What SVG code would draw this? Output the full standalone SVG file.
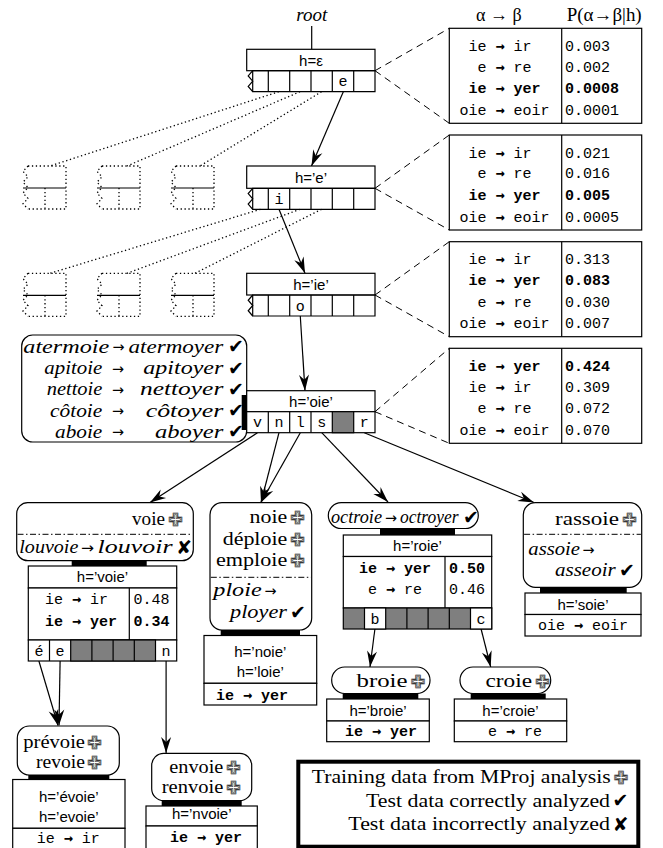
<svg xmlns="http://www.w3.org/2000/svg" xmlns:xlink="http://www.w3.org/1999/xlink" width="663" height="848" viewBox="0 0 663 848">
<style>
.n{fill:#fff;stroke:#000;stroke-width:1.2}
.ln{fill:none;stroke:#000;stroke-width:1.2}
.dot{fill:none;stroke:#000;stroke-width:1.3;stroke-dasharray:1.3 2.6}
.dash{fill:none;stroke:#000;stroke-width:1;stroke-dasharray:7 5}
.dd{fill:none;stroke:#000;stroke-width:1;stroke-dasharray:6 2.5 1.5 2.5}
.bar{fill:#000}
.gray{fill:#7f7f7f;stroke:#000;stroke-width:1.2}
.arr{fill:none;stroke:#000;stroke-width:1.2;marker-end:url(#ah)}
.sa{font-family:"Liberation Sans",Arial,sans-serif;font-size:15px;text-anchor:middle}
.mo{font-family:"Liberation Mono","DejaVu Sans Mono",monospace;font-size:15px}
.mb{font-family:"Liberation Mono","DejaVu Sans Mono",monospace;font-size:15px;font-weight:bold}
.ma{font-family:"DejaVu Sans Mono",monospace;font-weight:bold}
.sr{font-family:"Liberation Serif","Times New Roman",serif;font-size:19px}
.si{font-family:"Liberation Serif","Times New Roman",serif;font-size:19px;font-style:italic}
.sar{font-family:"DejaVu Sans",sans-serif;font-size:15px}
.sym{font-family:"DejaVu Sans",sans-serif;font-size:19px}
.plus{font-family:"DejaVu Sans",sans-serif;font-size:18px;fill:#fff;stroke:#000;stroke-width:0.45}
.mid{text-anchor:middle}
</style>
<defs>
<marker id="ah" viewBox="-17 -6 18 12" refX="0" refY="0" markerWidth="18" markerHeight="12" orient="auto" markerUnits="userSpaceOnUse">
<path d="M0,0 L-16,-5 L-11,0 L-16,5 Z" fill="#000"/>
</marker>
<g id="zrow">
<path class="ln" d="M252.7,0 H375 V21 H252.7 Z M268.3,0 V21 M289.7,0 V21 M311,0 V21 M332.3,0 V21 M353.7,0 V21"/>
<polyline class="ln" points="252.7,0 248.2,5.25 252.7,10.5 248.2,15.75 252.7,21"/>
</g>
<g id="dnode">
<path class="dot" d="M5,0 H43 V43 H5 M5,0 L0,5.4 L5,10.8 L0,16.2 L5,21.6 L0,27 L5,32.4 L0,37.8 L5,43 M22,22 V43"/>
<path class="ln" d="M0,22 H43"/>
</g>
<g id="tframe">
<rect class="n" x="449.3" y="0" width="192.4" height="95"/>
<line class="ln" x1="561.7" y1="0" x2="561.7" y2="95"/>
</g>
</defs>
<rect width="663" height="848" fill="#fff"/>

<g id="connectors">
<line class="ln" x1="311.7" y1="26" x2="311.7" y2="49.3"/>
<line class="arr" x1="343.3" y1="91.7" x2="311.5" y2="166"/>
<line class="arr" x1="279" y1="209.3" x2="305" y2="273.3"/>
<line class="arr" x1="300.3" y1="316" x2="305" y2="390.7"/>
<line class="arr" x1="257.5" y1="432.7" x2="150" y2="502.5"/>
<line class="arr" x1="279" y1="432.7" x2="261" y2="502.5"/>
<line class="arr" x1="300.3" y1="432.7" x2="261" y2="502.5"/>
<line class="arr" x1="321.7" y1="432.7" x2="388" y2="502"/>
<line class="arr" x1="364.3" y1="432.7" x2="534" y2="502.5"/>
<line class="arr" x1="38.9" y1="661" x2="58" y2="725.5"/>
<line class="arr" x1="60.1" y1="661" x2="59" y2="725.5"/>
<line class="arr" x1="166.1" y1="661" x2="166.1" y2="753"/>
<line class="arr" x1="374.9" y1="629" x2="370" y2="667"/>
<line class="arr" x1="481.1" y1="629" x2="490.7" y2="667"/>
<path class="dash" d="M375,70.7 L449.3,28.3 M375,70.7 L449.3,123.3"/>
<path class="dash" d="M375,188.3 L449.3,135 M375,188.3 L449.3,230"/>
<path class="dash" d="M375,295 L449.3,241.7 M375,295 L449.3,336.7"/>
<path class="dash" d="M375,411.7 L449.3,348.3 M375,411.7 L449.3,443.3"/>
<path class="dot" d="M278.8,91.7 L50,166 M300,91.7 L127,166 M321.5,91.7 L200,166"/>
<path class="dot" d="M260.5,209.3 L50,273.3 M300,209.3 L127,273.3 M321.5,209.3 L195,273.3"/>
</g>

<g id="headers">
<text class="sr" x="476" y="21" textLength="45.7" lengthAdjust="spacingAndGlyphs">α → β</text>
<text class="sr" x="566.7" y="21" textLength="75" lengthAdjust="spacingAndGlyphs">P(α→β|h)</text>
</g>

<g id="dotted-nodes">
<use xlink:href="#dnode" x="23" y="166"/>
<use xlink:href="#dnode" x="97" y="166"/>
<use xlink:href="#dnode" x="171" y="166"/>
<use xlink:href="#dnode" x="23" y="273.3"/>
<use xlink:href="#dnode" x="97" y="273.3"/>
<use xlink:href="#dnode" x="171" y="273.3"/>
</g>

<g id="node-root">
<text class="si mid" x="311.7" y="21" font-size="18">root</text>
<rect class="n" x="246.7" y="49.3" width="128.3" height="21.4"/>
<use xlink:href="#zrow" y="70.7"/>
<text class="sa" x="311" y="65.5">h=ε</text>
<text class="mo mid" x="343" y="86">e</text>
</g>

<g id="node-e">
<rect class="n" x="246.7" y="166" width="128.3" height="22.3"/>
<use xlink:href="#zrow" y="188.3"/>
<text class="sa" x="311" y="182.5">h=’e’</text>
<text class="mo mid" x="279" y="204">i</text>
</g>

<g id="node-ie">
<rect class="n" x="246.7" y="273.3" width="128.3" height="21.7"/>
<use xlink:href="#zrow" y="295"/>
<text class="sa" x="311" y="289.5">h=’ie’</text>
<text class="mo mid" x="300.3" y="310.5">o</text>
</g>

<g id="table-1">
<use xlink:href="#tframe" y="28.3"/>
<text class="mo" x="468.5" y="51">ie <tspan class="ma">→</tspan> ir</text><text class="mo" x="565" y="51">0.003</text>
<text class="mo" x="477.5" y="71.7">e <tspan class="ma">→</tspan> re</text><text class="mo" x="565" y="71.7">0.002</text>
<text class="mb" x="468.5" y="93.3">ie <tspan class="ma">→</tspan> yer</text><text class="mb" x="565" y="93.3">0.0008</text>
<text class="mo" x="459.5" y="115">oie <tspan class="ma">→</tspan> eoir</text><text class="mo" x="565" y="115">0.0001</text>
</g>
<g id="table-2">
<use xlink:href="#tframe" y="135"/>
<text class="mo" x="468.5" y="157.7">ie <tspan class="ma">→</tspan> ir</text><text class="mo" x="565" y="157.7">0.021</text>
<text class="mo" x="477.5" y="178.4">e <tspan class="ma">→</tspan> re</text><text class="mo" x="565" y="178.4">0.016</text>
<text class="mb" x="468.5" y="200">ie <tspan class="ma">→</tspan> yer</text><text class="mb" x="565" y="200">0.005</text>
<text class="mo" x="459.5" y="221.7">oie <tspan class="ma">→</tspan> eoir</text><text class="mo" x="565" y="221.7">0.0005</text>
</g>
<g id="table-3">
<use xlink:href="#tframe" y="241.7"/>
<text class="mo" x="468.5" y="264.4">ie <tspan class="ma">→</tspan> ir</text><text class="mo" x="565" y="264.4">0.313</text>
<text class="mb" x="468.5" y="285.1">ie <tspan class="ma">→</tspan> yer</text><text class="mb" x="565" y="285.1">0.083</text>
<text class="mo" x="477.5" y="306.7">e <tspan class="ma">→</tspan> re</text><text class="mo" x="565" y="306.7">0.030</text>
<text class="mo" x="459.5" y="328.4">oie <tspan class="ma">→</tspan> eoir</text><text class="mo" x="565" y="328.4">0.007</text>
</g>
<g id="table-4">
<use xlink:href="#tframe" y="348.3"/>
<text class="mb" x="468.5" y="371">ie <tspan class="ma">→</tspan> yer</text><text class="mb" x="565" y="371">0.424</text>
<text class="mo" x="468.5" y="391.7">ie <tspan class="ma">→</tspan> ir</text><text class="mo" x="565" y="391.7">0.309</text>
<text class="mo" x="477.5" y="413.3">e <tspan class="ma">→</tspan> re</text><text class="mo" x="565" y="413.3">0.072</text>
<text class="mo" x="459.5" y="435">oie <tspan class="ma">→</tspan> eoir</text><text class="mo" x="565" y="435">0.070</text>
</g>

<g id="box-test-oie">
<rect class="n" x="21.7" y="335" width="225" height="107" rx="11"/>
<text class="si" x="23.3" y="352.5" textLength="86" lengthAdjust="spacingAndGlyphs">atermoie</text>
<text class="sar" x="112.5" y="352" textLength="12" lengthAdjust="spacingAndGlyphs">→</text>
<text class="si" x="128.5" y="352.5" textLength="94.8" lengthAdjust="spacingAndGlyphs">atermoyer</text>
<text class="sym" x="228" y="353">✔</text>
<text class="si" x="44.3" y="374" textLength="58" lengthAdjust="spacingAndGlyphs">apitoie</text>
<text class="sar" x="112" y="373.5" textLength="12" lengthAdjust="spacingAndGlyphs">→</text>
<text class="si" x="143.3" y="374" textLength="80" lengthAdjust="spacingAndGlyphs">apitoyer</text>
<text class="sym" x="228" y="374.5">✔</text>
<text class="si" x="46.7" y="395.3" textLength="55.6" lengthAdjust="spacingAndGlyphs">nettoie</text>
<text class="sar" x="112" y="394.8" textLength="12" lengthAdjust="spacingAndGlyphs">→</text>
<text class="si" x="140" y="395.3" textLength="83.3" lengthAdjust="spacingAndGlyphs">nettoyer</text>
<text class="sym" x="228" y="395.8">✔</text>
<text class="si" x="50" y="416.5" textLength="52.3" lengthAdjust="spacingAndGlyphs">côtoie</text>
<text class="sar" x="112" y="416" textLength="12" lengthAdjust="spacingAndGlyphs">→</text>
<text class="si" x="145.7" y="416.5" textLength="77.6" lengthAdjust="spacingAndGlyphs">côtoyer</text>
<text class="sym" x="228" y="417">✔</text>
<text class="si" x="55" y="437.5" textLength="47.3" lengthAdjust="spacingAndGlyphs">aboie</text>
<text class="sar" x="112" y="437" textLength="12" lengthAdjust="spacingAndGlyphs">→</text>
<text class="si" x="155" y="437.5" textLength="68.3" lengthAdjust="spacingAndGlyphs">aboyer</text>
<text class="sym" x="228" y="438">✔</text>
</g>

<g id="node-oie">
<rect class="n" x="246.7" y="390.7" width="128.3" height="21"/>
<rect class="n" x="246.7" y="411.7" width="128.3" height="21"/>
<rect class="gray" x="332.3" y="411.7" width="21.4" height="21"/>
<path class="ln" d="M268.3,411.7 V432.7 M289.7,411.7 V432.7 M311,411.7 V432.7"/>
<rect class="bar" x="241.7" y="395" width="5" height="35"/>
<text class="sa" x="311" y="406.5">h=’oie’</text>
<text class="mo mid" x="257.5" y="427">v</text>
<text class="mo mid" x="279" y="427">n</text>
<text class="mo mid" x="300.3" y="427">l</text>
<text class="mo mid" x="321.7" y="427">s</text>
<text class="mo mid" x="364.3" y="427">r</text>
</g>

<g id="node-voie">
<rect class="n" x="16.7" y="502.7" width="176.6" height="58" rx="11"/>
<line class="dd" x1="17.5" y1="534.3" x2="192.5" y2="534.3"/>
<text class="sr" x="132" y="525" textLength="33" lengthAdjust="spacingAndGlyphs">voie</text>
<text class="plus" x="168" y="526">✙</text>
<text class="si" x="19.3" y="553.3" textLength="59" lengthAdjust="spacingAndGlyphs">louvoie</text>
<text class="sar" x="81" y="552.8" textLength="13" lengthAdjust="spacingAndGlyphs">→</text>
<text class="si" x="97.5" y="553.3" textLength="75" lengthAdjust="spacingAndGlyphs">louvoir</text>
<text class="sym" x="176" y="554">✘</text>
<rect class="bar" x="71.7" y="560.7" width="75" height="5.5"/>
<rect class="n" x="28.3" y="566" width="148.4" height="22"/>
<rect class="n" x="28.3" y="588" width="148.4" height="52"/>
<line class="ln" x1="129.3" y1="588" x2="129.3" y2="640"/>
<rect class="n" x="28.3" y="640" width="148.4" height="21"/>
<rect class="gray" x="70.7" y="640" width="84.8" height="21"/>
<path class="ln" d="M49.5,640 V661 M91.9,640 V661 M113.1,640 V661 M134.3,640 V661"/>
<text class="sa" x="102.5" y="582">h=’voie’</text>
<text class="mo" x="45" y="604.3">ie <tspan class="ma">→</tspan> ir</text><text class="mo" x="133.5" y="604.3">0.48</text>
<text class="mb" x="45" y="625.5">ie <tspan class="ma">→</tspan> yer</text><text class="mb" x="133.5" y="625.5">0.34</text>
<text class="mo mid" x="38.9" y="655.5">é</text>
<text class="mo mid" x="60.1" y="655.5">e</text>
<text class="mo mid" x="166.1" y="655.5">n</text>
</g>

<g id="node-noie">
<rect class="n" x="210" y="502.7" width="101.7" height="127.3" rx="12"/>
<line class="dd" x1="210.8" y1="577.3" x2="310.9" y2="577.3"/>
<text class="sr" x="249.6" y="523.3" textLength="37.7" lengthAdjust="spacingAndGlyphs">noie</text>
<text class="plus" x="290" y="524">✙</text>
<text class="sr" x="222.7" y="545" textLength="64.6" lengthAdjust="spacingAndGlyphs">déploie</text>
<text class="plus" x="290" y="545.7">✙</text>
<text class="sr" x="216" y="566" textLength="71.3" lengthAdjust="spacingAndGlyphs">emploie</text>
<text class="plus" x="290" y="566.7">✙</text>
<text class="si" x="213.3" y="596" textLength="48.4" lengthAdjust="spacingAndGlyphs">ploie</text>
<text class="sar" x="264.5" y="595.5" textLength="12" lengthAdjust="spacingAndGlyphs">→</text>
<text class="si" x="230" y="618.3" textLength="57" lengthAdjust="spacingAndGlyphs">ployer</text>
<text class="sym" x="290" y="619">✔</text>
<rect class="bar" x="220.7" y="630" width="79.3" height="5.5"/>
<rect class="n" x="204" y="635.5" width="112.7" height="47.8"/>
<rect class="n" x="204" y="683.3" width="112.7" height="21.7"/>
<text class="sa" x="260.3" y="657">h=’noie’</text>
<text class="sa" x="260.3" y="677">h=’loie’</text>
<text class="mb" x="216" y="699.5">ie <tspan class="ma">→</tspan> yer</text>
</g>

<g id="node-roie">
<rect class="n" x="328.3" y="502.7" width="150" height="25.8" rx="12.9"/>
<text class="si" x="331" y="523" textLength="51" lengthAdjust="spacingAndGlyphs">octroie</text>
<text class="sar" x="385" y="522.5" textLength="12" lengthAdjust="spacingAndGlyphs">→</text>
<text class="si" x="400" y="523" textLength="58.5" lengthAdjust="spacingAndGlyphs">octroyer</text>
<text class="sym" x="463" y="523.5" font-size="17">✔</text>
<rect class="bar" x="380" y="528.5" width="75" height="6.5"/>
<rect class="n" x="343.3" y="535" width="148.4" height="21.5"/>
<rect class="n" x="343.3" y="556.5" width="148.4" height="51.5"/>
<line class="ln" x1="445" y1="556.5" x2="445" y2="608"/>
<rect class="gray" x="343.3" y="608" width="148.4" height="21"/>
<rect class="n" x="364.5" y="608" width="21.2" height="21"/>
<rect class="n" x="470.5" y="608" width="21.2" height="21"/>
<path class="ln" d="M406.9,608 V629 M428.1,608 V629 M449.3,608 V629"/>
<text class="sa" x="417.5" y="551">h=’roie’</text>
<text class="mb" x="359" y="572.5">ie <tspan class="ma">→</tspan> yer</text><text class="mb" x="449" y="572.5">0.50</text>
<text class="mo" x="368" y="593.5">e <tspan class="ma">→</tspan> re</text><text class="mo" x="449" y="593.5">0.46</text>
<text class="mo mid" x="374.9" y="623.5">b</text>
<text class="mo mid" x="481.1" y="623.5">c</text>
</g>

<g id="node-soie">
<rect class="n" x="523.3" y="502.7" width="118.4" height="84.6" rx="12"/>
<line class="dd" x1="524.1" y1="534.3" x2="640.9" y2="534.3"/>
<text class="sr" x="555" y="525" textLength="64" lengthAdjust="spacingAndGlyphs">rassoie</text>
<text class="plus" x="622" y="526">✙</text>
<text class="si" x="528.3" y="555" textLength="51.7" lengthAdjust="spacingAndGlyphs">assoie</text>
<text class="sar" x="582.5" y="554.5" textLength="12" lengthAdjust="spacingAndGlyphs">→</text>
<text class="si" x="555" y="576" textLength="60.7" lengthAdjust="spacingAndGlyphs">asseoir</text>
<text class="sym" x="619" y="576.5">✔</text>
<rect class="bar" x="540" y="587.3" width="86.7" height="5.7"/>
<rect class="n" x="525" y="593" width="116" height="21.5"/>
<rect class="n" x="525" y="614.5" width="116" height="21.5"/>
<text class="sa" x="583" y="609.5">h=’soie’</text>
<text class="mo" x="538" y="630">oie <tspan class="ma">→</tspan> eoir</text>
</g>

<g id="node-evoie">
<rect class="n" x="17.3" y="726" width="102" height="49" rx="12"/>
<text class="sr" x="23.3" y="748" textLength="61.7" lengthAdjust="spacingAndGlyphs">prévoie</text>
<text class="plus" x="87" y="748.7">✙</text>
<text class="sr" x="36" y="768" textLength="49" lengthAdjust="spacingAndGlyphs">revoie</text>
<text class="plus" x="87" y="768.7">✙</text>
<rect class="bar" x="28.3" y="775" width="81" height="4.5"/>
<rect class="n" x="12.7" y="779.5" width="112.3" height="48.8"/>
<rect class="n" x="12.7" y="828.3" width="112.3" height="22"/>
<text class="sa" x="68.8" y="802">h=’évoie’</text>
<text class="sa" x="68.8" y="822">h=’evoie’</text>
<text class="mo" x="36.7" y="842.5">ie <tspan class="ma">→</tspan> ir</text>
</g>

<g id="node-nvoie">
<rect class="n" x="151.7" y="753.3" width="100" height="47.4" rx="12"/>
<text class="sr" x="169.3" y="773" textLength="54" lengthAdjust="spacingAndGlyphs">envoie</text>
<text class="plus" x="226" y="773.7">✙</text>
<text class="sr" x="161.7" y="793" textLength="61.6" lengthAdjust="spacingAndGlyphs">renvoie</text>
<text class="plus" x="226" y="793.7">✙</text>
<rect class="bar" x="161.7" y="800.7" width="80" height="5.3"/>
<rect class="n" x="146" y="806" width="111.3" height="20"/>
<rect class="n" x="146" y="826" width="111.3" height="24"/>
<text class="sa" x="201.7" y="818.5">h=’nvoie’</text>
<text class="mb" x="170" y="842">ie <tspan class="ma">→</tspan> yer</text>
</g>

<g id="node-broie">
<rect class="n" x="331.7" y="667" width="98.3" height="26.5" rx="13"/>
<text class="sr" x="356.5" y="687" textLength="51" lengthAdjust="spacingAndGlyphs">broie</text>
<text class="plus" x="410.5" y="687.7">✙</text>
<rect class="bar" x="342.7" y="693.5" width="75.6" height="5.5"/>
<rect class="n" x="326.7" y="699" width="102.6" height="22"/>
<rect class="n" x="326.7" y="721" width="102.6" height="20.7"/>
<text class="sa" x="378" y="715.5">h=’broie’</text>
<text class="mb" x="345" y="736">ie <tspan class="ma">→</tspan> yer</text>
</g>

<g id="node-croie">
<rect class="n" x="460" y="667" width="90.7" height="26.5" rx="13"/>
<text class="sr" x="485.5" y="687" textLength="46.6" lengthAdjust="spacingAndGlyphs">croie</text>
<text class="plus" x="535" y="687.7">✙</text>
<rect class="bar" x="470.7" y="693.5" width="75" height="5.5"/>
<rect class="n" x="454.3" y="699" width="112.4" height="22"/>
<rect class="n" x="454.3" y="721" width="112.4" height="20.7"/>
<text class="sa" x="510.5" y="715.5">h=’croie’</text>
<text class="mo" x="488" y="736">e <tspan class="ma">→</tspan> re</text>
</g>

<g id="legend">
<rect x="298.3" y="761.7" width="340" height="85" fill="#fff" stroke="#000" stroke-width="4"/>
<text class="sr" x="311.7" y="783" textLength="299" lengthAdjust="spacingAndGlyphs">Training data from MProj analysis</text>
<text class="plus" x="613.5" y="783.7">✙</text>
<text class="sr" x="366" y="806.7" textLength="244" lengthAdjust="spacingAndGlyphs">Test data correctly analyzed</text>
<text class="sym" x="612.5" y="807.3">✔</text>
<text class="sr" x="348.3" y="830" textLength="261.7" lengthAdjust="spacingAndGlyphs">Test data incorrectly analyzed</text>
<text class="sym" x="612.5" y="830.7">✘</text>
</g>
</svg>
